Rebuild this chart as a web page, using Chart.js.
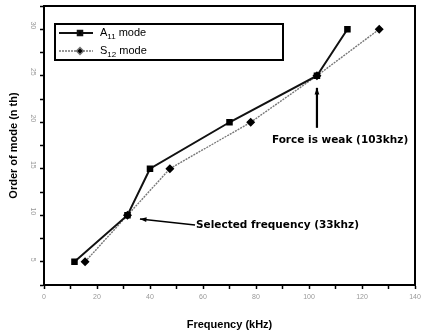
<!DOCTYPE html>
<html><head><meta charset="utf-8">
<script src="https://cdn.jsdelivr.net/npm/chart.js@4"></script>
<style>html,body{margin:0;padding:0;background:#fff}#c{display:block}</style>
</head><body>
<canvas id="c" width="421" height="332"></canvas>
<script>
// ---- data ----
const modeOrders = [5, 10, 15, 20, 25, 30];
const freqA11 = [11.5, 31.5, 40, 70, 103, 114.5];
const freqS12 = [15.5, 31.5, 47.5, 78, 103, 126.5];
const seriesMain = ['A', 'S'];
const seriesSub = ['11', '12'];
const seriesSuffix = ' mode';
const xTickValues = [0, 20, 40, 60, 80, 100, 120, 140];
const yTickValues = [5, 10, 15, 20, 25, 30];
const xTitle = 'Frequency (kHz)';
const yTitle = 'Order of mode (n th)';
const note1 = 'Selected frequency (33khz)';
const note2 = 'Force is weak (103khz)';

const toPts = (xs, ys) => xs.map((x, i) => ({x: x, y: ys[i]}));

const frame = {
  id: 'frame',
  afterDraw(chart) {
    const {ctx, chartArea: a} = chart;
    ctx.save();
    ctx.strokeStyle = '#000';
    ctx.lineWidth = 2;
    ctx.strokeRect(a.left, a.top, a.right - a.left, a.bottom - a.top);
    ctx.restore();
  }
};

const legendBox = {
  id: 'legendBox',
  afterDraw(chart) {
    const {ctx, chartArea: a} = chart;
    const x0 = a.left + 11, y0 = a.top + 18, w = 228, h = 36;
    ctx.save();
    ctx.strokeStyle = '#000';
    ctx.lineWidth = 2;
    ctx.strokeRect(x0, y0, w, h);
    chart.data.datasets.forEach((ds, i) => {
      const cy = y0 + 9 + i * 18;
      ctx.strokeStyle = ds.borderColor;
      ctx.lineWidth = ds.borderWidth;
      ctx.setLineDash(ds.borderDash || []);
      ctx.beginPath(); ctx.moveTo(x0 + 4, cy); ctx.lineTo(x0 + 38, cy); ctx.stroke();
      ctx.setLineDash([]);
      Chart.helpers.drawPoint(ctx, {pointStyle: ds.pointStyle, radius: ds.pointRadius, borderWidth: 1}, x0 + 25, cy);
      ctx.fillStyle = '#000';
      ctx.textBaseline = 'middle';
      ctx.font = '11px "Liberation Sans", Arial, sans-serif';
      let tx = x0 + 45;
      ctx.fillText(seriesMain[i], tx, cy);
      tx += ctx.measureText(seriesMain[i]).width;
      ctx.font = '8px "Liberation Sans", Arial, sans-serif';
      ctx.fillText(seriesSub[i], tx, cy + 4);
      tx += ctx.measureText(seriesSub[i]).width;
      ctx.font = '11px "Liberation Sans", Arial, sans-serif';
      ctx.fillText(seriesSuffix, tx, cy);
    });
    ctx.restore();
  }
};

function arrow(ctx, x1, y1, x2, y2) {
  ctx.beginPath(); ctx.moveTo(x1, y1); ctx.lineTo(x2, y2); ctx.stroke();
  const ang = Math.atan2(y2 - y1, x2 - x1), L = 7, W = 0.35;
  ctx.beginPath();
  ctx.moveTo(x2, y2);
  ctx.lineTo(x2 - L * Math.cos(ang - W), y2 - L * Math.sin(ang - W));
  ctx.lineTo(x2 - L * Math.cos(ang + W), y2 - L * Math.sin(ang + W));
  ctx.closePath(); ctx.fill();
}

const notes = {
  id: 'notes',
  afterDraw(chart) {
    const {ctx, scales: {x, y}} = chart;
    ctx.save();
    ctx.strokeStyle = '#000'; ctx.fillStyle = '#000'; ctx.lineWidth = 1.6;
    const h1x = x.getPixelForValue(36.2), h1y = y.getPixelForValue(9.6);
    const t1x = x.getPixelForValue(57), t1y = y.getPixelForValue(8.95);
    arrow(ctx, t1x, t1y, h1x, h1y);
    ctx.font = 'bold 10.5px "DejaVu Sans", sans-serif';
    ctx.textBaseline = 'middle';
    ctx.fillText(note1, t1x + 1, t1y);
    const h2x = x.getPixelForValue(103), h2y = y.getPixelForValue(23.7);
    const t2y = y.getPixelForValue(19.4);
    ctx.lineWidth = 2.2;
    arrow(ctx, h2x, t2y, h2x, h2y);
    ctx.fillText(note2, x.getPixelForValue(86), y.getPixelForValue(18.1));
    ctx.restore();
  }
};

new Chart(document.getElementById('c'), {
  type: 'line',
  data: {
    datasets: [
      {label: 'A11 mode', data: toPts(freqA11, modeOrders), borderColor: '#111', borderWidth: 2,
       pointStyle: 'rect', pointRadius: 3.2, pointBackgroundColor: '#000', pointBorderColor: '#000', tension: 0},
      {label: 'S12 mode', data: toPts(freqS12, modeOrders), borderColor: '#777', borderWidth: 1.4, borderDash: [2, 1],
       pointStyle: 'rectRot', pointRadius: 3.5, pointBackgroundColor: '#000', pointBorderColor: '#000', tension: 0}
    ]
  },
  options: {
    responsive: false, animation: false, devicePixelRatio: 1,
    layout: {padding: {left: 0, top: 6, right: 6, bottom: 0}},
    plugins: {legend: {display: false}, tooltip: {enabled: false}},
    scales: {
      x: {
        type: 'linear', min: 0, max: 140, position: 'bottom',
        afterBuildTicks: s => { const t = []; for (let v = 0; v <= 140; v += 10) t.push({value: v}); s.ticks = t; },
        afterFit: s => { s.height = 47; s.paddingLeft = 0; s.paddingRight = 0; },
        ticks: {autoSkip: false, maxRotation: 0, padding: 4, color: '#999', font: {size: 7},
          callback: v => xTickValues.includes(v) ? String(v) : ''},
        grid: {drawOnChartArea: false, drawTicks: true, tickLength: 4, color: '#000', tickWidth: 1.5},
        border: {color: '#000', width: 2},
        title: {display: true, text: xTitle, color: '#000', font: {size: 11, weight: 'bold'}, padding: {top: 6, bottom: 0}}
      },
      y: {
        type: 'linear', min: 2.5, max: 32.5,
        afterBuildTicks: s => { const t = []; for (let v = 2.5; v <= 32.5; v += 2.5) t.push({value: v}); s.ticks = t; },
        afterFit: s => { s.width = 44; s.paddingTop = 0; s.paddingBottom = 0; },
        ticks: {autoSkip: false, minRotation: -90, maxRotation: -90, padding: 7, color: '#999', font: {size: 7},
          callback: v => yTickValues.includes(v) ? String(v) : ''},
        grid: {drawOnChartArea: false, drawTicks: true, tickLength: 4, color: '#000', tickWidth: 1.5},
        border: {color: '#000', width: 2},
        title: {display: true, text: yTitle, color: '#000', font: {size: 11, weight: 'bold'}, padding: {top: 7, bottom: 4}}
      }
    }
  },
  plugins: [frame, legendBox, notes]
});
</script>
</body></html>
